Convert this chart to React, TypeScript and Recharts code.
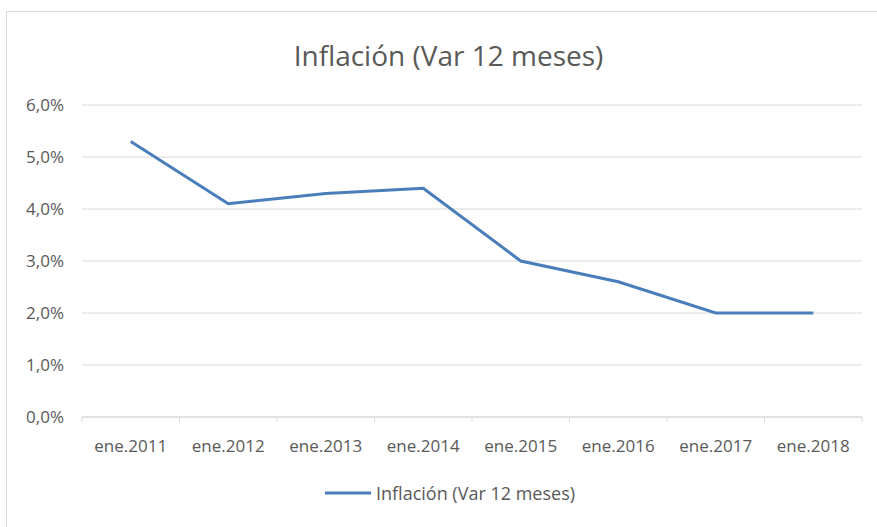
import React from "react";
import { LineChart, Line, XAxis, YAxis, CartesianGrid, Legend } from "recharts";

const categories = ["ene.2011", "ene.2012", "ene.2013", "ene.2014", "ene.2015", "ene.2016", "ene.2017", "ene.2018"];
const inflation = [5.3, 4.1, 4.3, 4.4, 3.0, 2.6, 2.0, 2.0];
const yTicks = [0, 1, 2, 3, 4, 5, 6];
const seriesName = "Inflación (Var 12 meses)";
const title = "Inflación (Var 12 meses)";

const data = categories.map((label, i) => ({ label, value: inflation[i] }));

const FONT = "'Open Sans', sans-serif";
const TEXT = "#595959";
const GRID = "#d9d9d9";
const BLUE = "#4a7ebb";

const fmt = (v: number) => v.toFixed(1).replace(".", ",") + "%";

const XTick = (props: any) => {
  const { x, y, payload, index } = props;
  const tickSize = 5;
  const tickMargin = 18;
  const axisY = y - tickSize - tickMargin;
  const off = payload.offset || 0;
  const last = index === categories.length - 1;
  return (
    <g>
      <line x1={x - off} x2={x - off} y1={axisY} y2={axisY + tickSize} stroke={GRID} strokeWidth={1} />
      {last && <line x1={x + off} x2={x + off} y1={axisY} y2={axisY + tickSize} stroke={GRID} strokeWidth={1} />}
      <text x={x} y={y} dy="0.71em" textAnchor="middle" fill={TEXT} fontSize={17} fontFamily={FONT}>
        {payload.value}
      </text>
    </g>
  );
};

const LegendContent = () => (
  <div style={{ display: "flex", justifyContent: "center", alignItems: "center", paddingLeft: 38, height: 30 }}>
    <svg width={48} height={10}>
      <line x1={0} x2={46} y1={5} y2={5} stroke={BLUE} strokeWidth={3} />
    </svg>
    <span style={{ fontFamily: FONT, fontSize: 18, color: TEXT, marginLeft: 3 }}>{seriesName}</span>
  </div>
);

export default function App() {
  return (
    <div style={{ position: "absolute", left: 0, top: 0, width: 877, height: 527, overflow: "hidden", background: "#fff" }}>
      <div style={{ position: "absolute", left: 6, top: 11, width: 890, height: 540, border: "1px solid #d9d9d9", boxSizing: "border-box" }} />
      <div
        style={{
          position: "absolute",
          left: 0,
          top: 36,
          width: 877,
          paddingLeft: 20,
          boxSizing: "border-box",
          textAlign: "center",
          fontFamily: FONT,
          fontSize: 28,
          color: TEXT,
          lineHeight: "38px",
        }}
      >
        {title}
      </div>
      <div style={{ position: "absolute", left: 0, top: 0 }}>
        <LineChart width={877} height={527} data={data} margin={{ top: 105, right: 15, left: 0, bottom: 19 }}>
          <CartesianGrid vertical={false} stroke={GRID} strokeWidth={1} />
          <XAxis
            dataKey="label"
            scale="band"
            tickLine={false}
            tickSize={5}
            tickMargin={18}
            axisLine={{ stroke: GRID, strokeWidth: 1 }}
            tick={<XTick />}
            height={61}
            interval={0}
          />
          <YAxis
            domain={[0, 6]}
            ticks={yTicks}
            tickFormatter={fmt}
            axisLine={false}
            tickLine={false}
            tickSize={0}
            tickMargin={18}
            width={82}
            tick={{ fill: TEXT, fontSize: 17, fontFamily: FONT }}
          />
          <Legend verticalAlign="bottom" content={<LegendContent />} wrapperStyle={{ height: 30 }} />
          <Line
            type="linear"
            dataKey="value"
            name={seriesName}
            stroke={BLUE}
            strokeWidth={3}
            dot={false}
            activeDot={false}
            isAnimationActive={false}
          />
        </LineChart>
      </div>
    </div>
  );
}
